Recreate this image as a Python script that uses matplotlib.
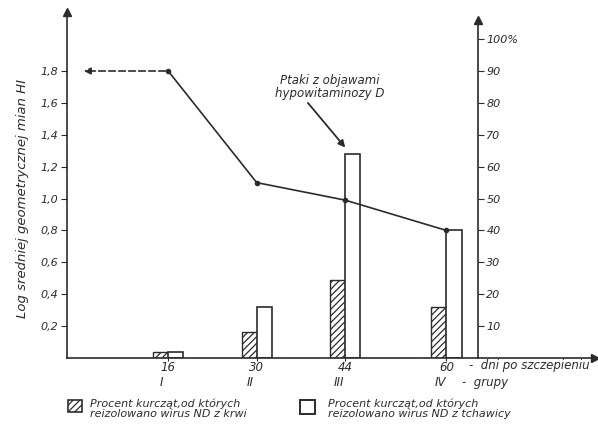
import numpy as np
import matplotlib
matplotlib.use('Agg')
import matplotlib.pyplot as plt

# dane
dni = [16, 30, 44, 60]
grupy = ['I', 'II', 'III', 'IV']
log_hi = [1.8, 1.10, 0.99, 0.80]
krew = [2, 8, 24.5, 16]        # % kurczat, wirus ND z krwi
tchawica = [2, 16, 64, 40]     # % kurczat, wirus ND z tchawicy
lewe_ticki = [0.2, 0.4, 0.6, 0.8, 1.0, 1.2, 1.4, 1.6, 1.8]
prawe_ticki = [10, 20, 30, 40, 50, 60, 70, 80, 90, 100]

ink = '#2e2a2a'
plt.rcParams['font.family'] = ['DejaVu Sans']
plt.rcParams['hatch.color'] = ink
plt.rcParams['hatch.linewidth'] = 0.9

fig = plt.figure(figsize=(5.98, 4.28), dpi=100)
ax = fig.add_axes([67/598, 70/428, 528/598, 346/428])
ax.set_xlim(0, 83.5)
ax.set_ylim(0, 2.17)
ax.patch.set_alpha(0)

for s in ['top', 'right']:
    ax.spines[s].set_visible(False)
for s in ['left', 'bottom']:
    ax.spines[s].set_color(ink)
    ax.spines[s].set_linewidth(1.2)

# strzalki na osiach
ax.plot(0, 2.17, marker='^', color=ink, ms=6, clip_on=False)
ax.plot(83.5, 0, marker='>', color=ink, ms=6, clip_on=False)

ax.set_yticks(lewe_ticki)
ax.set_yticklabels([('%.1f' % v).replace('.', ',') for v in lewe_ticki],
                   style='italic', fontsize=8, color=ink)
ax.tick_params(axis='y', direction='out', length=4, color=ink, pad=2)
ax.set_xticks(dni)
ax.set_xticklabels([str(d) for d in dni], style='italic', fontsize=8.5, color=ink)
ax.tick_params(axis='x', direction='inout', length=4, color=ink, pad=0)

# slupki
w = 2.4
ax.bar(np.array(dni) - w/2, np.array(krew) / 50, width=w, facecolor='white',
       edgecolor=ink, hatch='/////', linewidth=1.0, zorder=2)
ax.bar(np.array(dni) + w/2, np.array(tchawica) / 50, width=w, facecolor='white',
       edgecolor=ink, linewidth=1.2, zorder=2)

# linia mian HI
ax.plot(dni, log_hi, color=ink, lw=1.2, marker='o', ms=3, zorder=3)
ax.annotate('', xy=(2.2, log_hi[0]), xytext=(dni[0], log_hi[0]),
            arrowprops=dict(arrowstyle='-|>', color=ink, lw=1.2, ls=(0, (4, 2)),
                            mutation_scale=10), zorder=3)

# prawa os
ax2 = ax.twinx()
ax2.set_ylim(0, 2.17 * 50)
for s in ['top', 'left', 'bottom']:
    ax2.spines[s].set_visible(False)
ax2.spines['right'].set_position(('data', 65))
ax2.spines['right'].set_color(ink)
ax2.spines['right'].set_linewidth(1.2)
ax2.spines['right'].set_bounds(0, 106)
ax2.set_yticks(prawe_ticki)
ax2.set_yticklabels([str(v) for v in prawe_ticki[:-1]] + ['100%'],
                    style='italic', fontsize=8, color=ink)
ax2.tick_params(axis='y', direction='out', length=4, color=ink, pad=2)
ax.plot([65], [106 / 50], marker='^', color=ink, ms=6, clip_on=False)

# opisy osi
ax.text(-7, 1.0, 'Log sredniej geometrycznej mian HI', rotation=90, ha='center',
        va='center', style='italic', fontsize=9.5, color=ink)
for d, g in zip(dni, grupy):
    ax.text(d - 1, -0.155, g, ha='center', va='center', style='italic',
            fontsize=8.5, color=ink, clip_on=False)
ax.text(63.5, -0.05, '-  dni po szczepieniu', ha='left', va='center', style='italic',
        fontsize=8.5, color=ink)
ax.text(62.5, -0.155, '-  grupy', ha='left', va='center', style='italic',
        fontsize=8.5, color=ink)

ax.text(41.6, 1.70, 'Ptaki z objawami\nhypowitaminozy D', ha='center', va='center',
        style='italic', fontsize=8.5, color=ink, linespacing=0.95)
ax.annotate('', xy=(44, 1.32), xytext=(38.1, 1.60),
            arrowprops=dict(arrowstyle='-|>', color=ink, lw=1.3, mutation_scale=10,
                            shrinkA=0, shrinkB=0))

# legenda
fig.patches.append(plt.Rectangle((68/598, 1 - 412/428), 14/598, 12/428, transform=fig.transFigure,
                                 facecolor='white', edgecolor=ink, hatch='/////', lw=1.2))
fig.patches.append(plt.Rectangle((300/598, 1 - 414/428), 15/598, 14/428, transform=fig.transFigure,
                                 facecolor='white', edgecolor=ink, lw=1.4))
fig.text(90/598, 1 - 409/428, 'Procent kurcząt,od których\nreizolowano wirus ND z krwi',
         ha='left', va='center', style='italic', fontsize=8, color=ink, linespacing=0.95)
fig.text(328/598, 1 - 409/428, 'Procent kurcząt,od których\nreizolowano wirus ND z tchawicy',
         ha='left', va='center', style='italic', fontsize=8, color=ink, linespacing=0.95)

fig.savefig('out.png', dpi=100)
